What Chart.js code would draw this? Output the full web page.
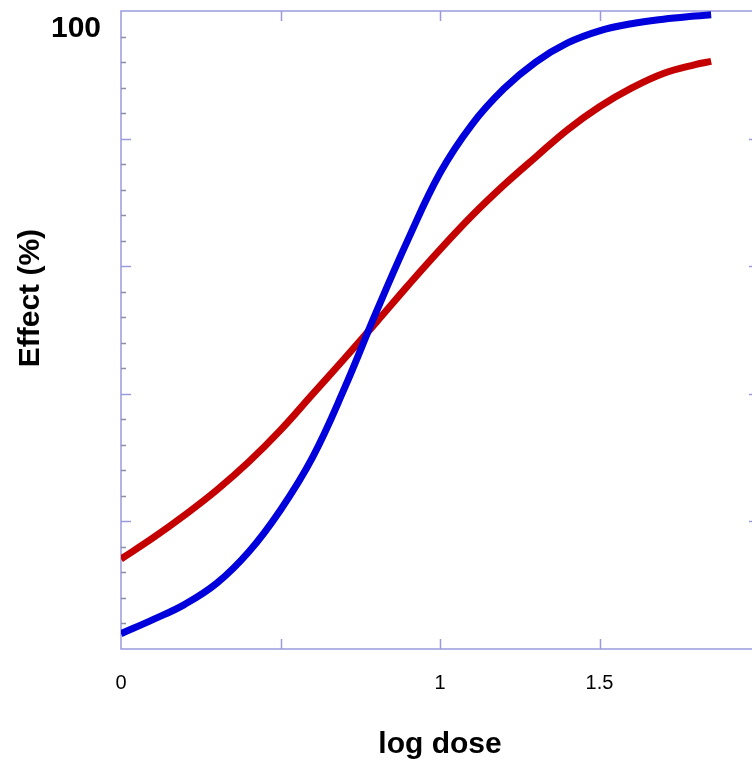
<!DOCTYPE html>
<html>
<head>
<meta charset="utf-8">
<script src="https://cdn.jsdelivr.net/npm/chart.js@4.4.1/dist/chart.umd.min.js"></script>
<style>
  html, body { margin: 0; padding: 0; background: #fff; overflow: hidden; }
  #wrap { width: 760px; height: 764px; position: relative; }
</style>
</head>
<body>
<div id="wrap"><canvas id="c"></canvas></div>
<script>
// values
const logDose = [0, 0.1, 0.2, 0.3, 0.4, 0.5, 0.6, 0.7, 0.8, 0.9, 1.0, 1.1, 1.2, 1.3, 1.4, 1.5, 1.6, 1.7, 1.8, 1.85];
const blueEffect = [2.4, 4.6, 7.0, 10.3, 15.2, 21.8, 30.0, 40.8, 52.8, 64.2, 74.6, 82.2, 87.8, 92.0, 95.0, 96.9, 98.0, 98.7, 99.2, 99.4];
const redEffect  = [14.1, 17.4, 21.0, 24.9, 29.3, 34.3, 39.9, 45.5, 51.2, 57.0, 62.6, 67.9, 72.7, 77.1, 81.4, 85.0, 87.9, 90.2, 91.6, 92.1];
const xLabels = { 0: "0", 1: "1", 1.5: "1.5" };   // 0.5 and 2 carry no label
const yLabels = { 100: "100" };
const yTitle = "Effect (%)";
const xTitle = "log dose";

const FRAME = "#9a9ade", MINOR = "#8d8da8", BLUE = "#0000dd", RED = "#c40000", INK = "#000";
const FONT = "Arial, 'Liberation Sans', sans-serif";

const pts = (ys) => logDose.map((x, i) => ({ x, y: ys[i] }));

// frame + inward tick marks on all four sides, and the y title (sits above centre)
const framePlugin = {
  id: "frame",
  beforeDatasetsDraw(chart) {
    const { ctx, chartArea: a, scales: { x, y } } = chart;
    ctx.save();
    ctx.lineWidth = 1.5;
    ctx.strokeStyle = FRAME;
    ctx.strokeRect(a.left, a.top, a.right - a.left, a.bottom - a.top);
    for (let v = 0.5; v < 2; v += 0.5) {
      const px = Math.round(x.getPixelForValue(v)) + 0.5;
      ctx.beginPath();
      ctx.moveTo(px, a.bottom); ctx.lineTo(px, a.bottom - 10);
      ctx.moveTo(px, a.top); ctx.lineTo(px, a.top + 10);
      ctx.stroke();
    }
    for (let v = 4; v < 100; v += 4) {
      const major = v % 20 === 0;
      const len = major ? 10 : 5;
      const py = Math.round(y.getPixelForValue(v)) + 0.5;
      ctx.strokeStyle = major ? FRAME : MINOR;
      ctx.beginPath();
      ctx.moveTo(a.left, py); ctx.lineTo(a.left + len, py);
      ctx.moveTo(a.right, py); ctx.lineTo(a.right - len, py);
      ctx.stroke();
    }
    // y title
    ctx.translate(31, y.getPixelForValue(55));
    ctx.rotate(-Math.PI / 2);
    ctx.fillStyle = INK;
    ctx.font = "bold 30px " + FONT;
    ctx.textAlign = "center";
    ctx.textBaseline = "middle";
    ctx.fillText(yTitle, 0, 0);
    ctx.restore();
  }
};

const noPad = (s) => { s.paddingTop = 0; s.paddingBottom = 0; s.paddingLeft = 0; s.paddingRight = 0; };

new Chart(document.getElementById("c"), {
  type: "line",
  data: {
    datasets: [
      { data: pts(blueEffect), borderColor: BLUE },
      { data: pts(redEffect), borderColor: RED },
    ],
  },
  options: {
    animation: false, responsive: true, maintainAspectRatio: false,
    layout: { padding: { top: 11, right: 1, left: 0, bottom: 0 } },
    elements: {
      point: { radius: 0 },
      line: { borderWidth: 7, tension: 0.4, borderCapStyle: "butt", fill: false },
    },
    plugins: { legend: { display: false }, tooltip: { enabled: false } },
    scales: {
      x: {
        type: "linear", min: 0, max: 2,
        grid: { display: false }, border: { display: false },
        ticks: { stepSize: 0.5, padding: 14, color: INK, font: { family: FONT, size: 20 },
                 maxRotation: 0, autoSkip: false, callback: (v) => xLabels[v] ?? "" },
        title: { display: true, text: xTitle, color: INK, padding: { top: 0, bottom: 1 },
                 font: { family: FONT, size: 30, weight: "bold" } },
        afterFit: (s) => { s.height = 115; noPad(s); },
      },
      y: {
        min: 0, max: 100,
        grid: { display: false }, border: { display: false },
        ticks: { stepSize: 4, padding: 12, labelOffset: 18, color: INK, autoSkip: false,
                 font: { family: FONT, size: 30, weight: "bold" }, callback: (v) => yLabels[v] ?? "" },
        afterFit: (s) => { s.width = 121; noPad(s); },
      },
    },
  },
  plugins: [framePlugin],
});
</script>
</body>
</html>
